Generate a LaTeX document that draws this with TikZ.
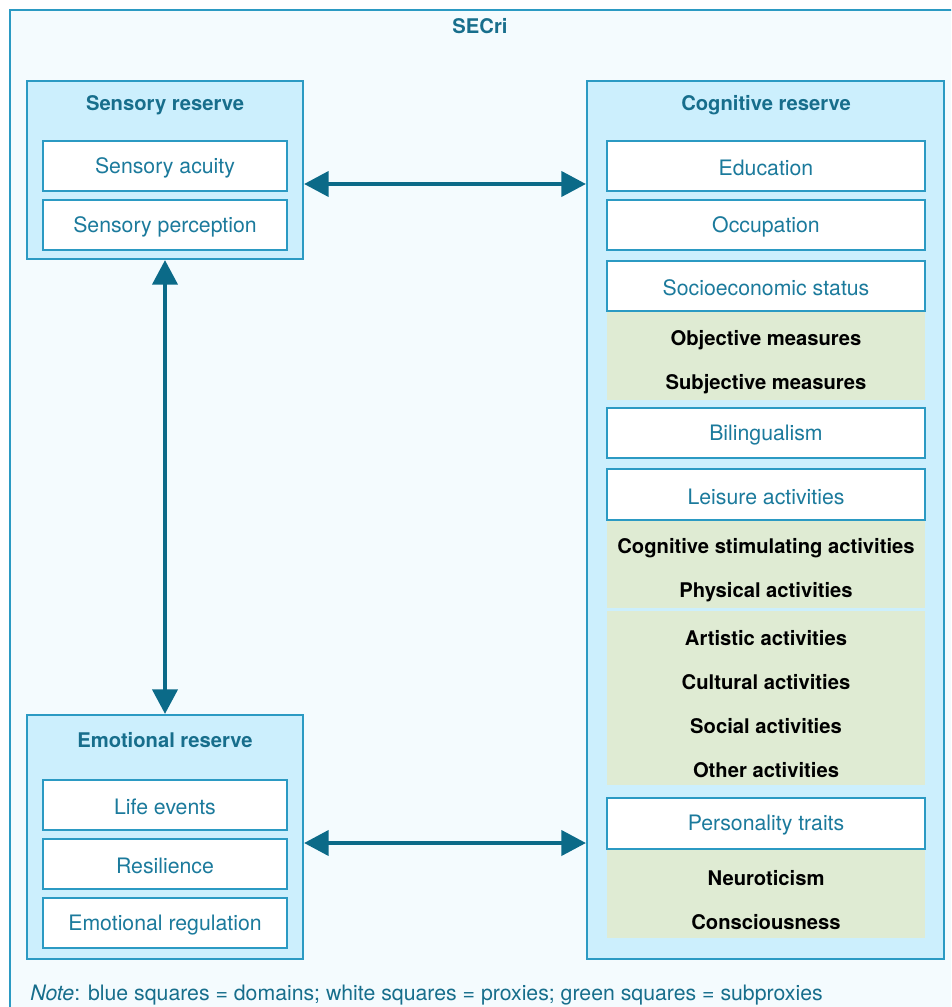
\documentclass[tikz,border=0pt]{standalone}
\usepackage{fontspec}
\setmainfont{TeX Gyre Heros}
\usetikzlibrary{arrows.meta,fit}
\definecolor{bgc}{HTML}{F4FBFE}
\definecolor{domc}{HTML}{CCEFFD}
\definecolor{edgec}{HTML}{2B9AC3}
\definecolor{titc}{HTML}{176E8C}
\definecolor{proxc}{HTML}{1B7A9C}
\definecolor{arrc}{HTML}{0B6A88}
\definecolor{greenc}{HTML}{DFEBD3}
\tikzset{
  dombox/.style={draw=edgec, line width=1.1pt, fill=domc, inner sep=0pt},
  proxbox/.style={draw=edgec, line width=1.1pt, fill=white, inner sep=0pt},
  proxtxt/.style={text=proxc, yshift=-0.04cm, font=\fontsize{12.1}{14}\selectfont},
  subblock/.style={fill=greenc, inner sep=0pt},
  subtxt/.style={text=black, yshift=-0.04cm, font=\fontsize{11.5}{14}\selectfont\bfseries},
  dtitle/.style={text=titc, yshift=-0.04cm, font=\fontsize{11.5}{14}\selectfont\bfseries},
  biarrow/.style={draw=arrc, line width=2.8pt, {Triangle[length=14pt,width=14pt]}-{Triangle[length=14pt,width=14pt]}}
}
\begin{document}
\begin{tikzpicture}[x=0.02cm,y=-0.02cm]
\useasboundingbox (0,0) rectangle (951,1007);
\clip (0,0) rectangle (951,1007);
\fill[white] (0,0) rectangle (951,1007);
\fill[bgc] (10,10) rectangle (951,1007);
\draw[edgec, line width=1.1pt] (10,1010) -- (10,10) -- (955,10);
\node[dtitle] (secri) at (480,24) {SECri};

% Sensory reserve
\node[dombox, fit={(27,81)(303,259)}] (sens) {};
\node[dtitle] (senst) at (165,103) {Sensory reserve};
\node[proxbox, fit={(43,141)(287,191)}] (acu) {};
\node[proxtxt] at (acu.center) {Sensory acuity};
\node[proxbox, fit={(43,200)(287,250)}] (perc) {};
\node[proxtxt] at (perc.center) {Sensory perception};

% Emotional reserve
\node[dombox, fit={(27,715)(303,959)}] (emo) {};
\node[dtitle] (emot) at (165,738) {Emotional reserve};
\node[proxbox, fit={(43,780)(287,830)}] (life) {};
\node[proxtxt] at (life.center) {Life events};
\node[proxbox, fit={(43,839)(287,889)}] (resil) {};
\node[proxtxt] at (resil.center) {Resilience};
\node[proxbox, fit={(43,898)(287,948)}] (ereg) {};
\node[proxtxt] at (ereg.center) {Emotional regulation};

% Cognitive reserve
\node[dombox, fit={(587,81)(944,959)}] (cog) {};
\node[dtitle] (cogt) at (766,103) {Cognitive reserve};
\node[subblock, fit={(607,311)(925,400)}] (g1) {};
\node[subblock, fit={(607,520)(925,608)}] (g2) {};
\node[subblock, fit={(607,611)(925,785)}] (g3) {};
\node[subblock, fit={(607,849)(925,938)}] (g4) {};
\node[proxbox, fit={(607,141)(925,191)}] (edu) {};
\node[proxtxt] at (edu.center) {Education};
\node[proxbox, fit={(607,200)(925,250)}] (occ) {};
\node[proxtxt] at (occ.center) {Occupation};
\node[proxbox, fit={(607,261)(925,311)}] (ses) {};
\node[proxtxt] at (ses.center) {Socioeconomic status};
\node[subtxt] (obj) at (766,338) {Objective measures};
\node[subtxt] (subj) at (766,382) {Subjective measures};
\node[proxbox, fit={(607,408)(925,458)}] (bil) {};
\node[proxtxt] at (bil.center) {Bilingualism};
\node[proxbox, fit={(607,469)(925,520)}] (leis) {};
\node[proxtxt] at (leis.center) {Leisure activities};
\node[subtxt] (cogst) at (766,546) {Cognitive stimulating activities};
\node[subtxt] (phys) at (766,590) {Physical activities};
\node[subtxt] (art) at (766,636) {Artistic activities};
\node[subtxt] (cult) at (766,680) {Cultural activities};
\node[subtxt] (soc) at (766,724) {Social activities};
\node[subtxt] (oth) at (766,768) {Other activities};
\node[proxbox, fit={(607,798)(925,849)}] (pers) {};
\node[proxtxt] at (pers.center) {Personality traits};
\node[subtxt] (neur) at (766,876) {Neuroticism};
\node[subtxt] (cons) at (766,920) {Consciousness};

% Arrows
\draw[biarrow] ([yshift=-0.28cm]sens.east) -- ([yshift=-0.28cm]sens.east -| cog.west);
\draw[biarrow] (sens.south) -- (emo.north);
\draw[biarrow] ([yshift=-0.12cm]emo.east) -- ([yshift=-0.12cm]emo.east -| cog.west);

% Note
\node[anchor=west, text=titc, font=\fontsize{12.1}{14}\selectfont, inner sep=0pt] (note) at (30,995) {\textit{Note}: blue squares = domains; white squares = proxies; green squares = subproxies};
\end{tikzpicture}
\end{document}
